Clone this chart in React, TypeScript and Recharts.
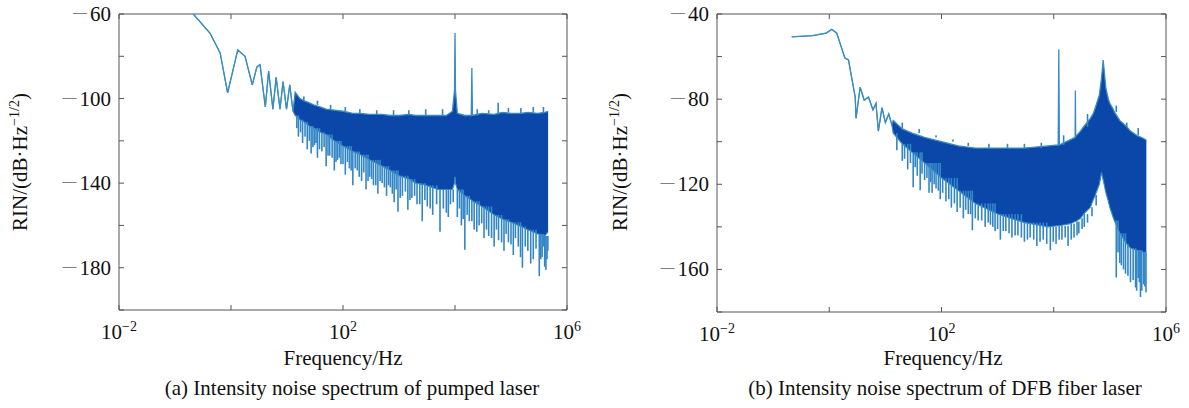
import { Area, Bar, ComposedChart, Line, ReferenceArea, XAxis, YAxis } from "recharts";

const FONT = '"Liberation Serif", "Times New Roman", serif';
const BAND = "#0b47a8";
const EDGE = "#3a8cc0";
const SPIKE = "#3386c6";
const AXIS = "#555";

// frequency ticks (Hz) and which ones get a 10^n label
const xTicks = [0.01, 1, 100, 1e4, 1e6];
const xExponents: Record<string, string> = { "0.01": "−2", "100": "2", "1000000": "6" };

// (a) pumped laser: single trace at low frequency
const pumpTraceFreq = [0.212, 0.42, 0.64, 0.87, 1.32, 1.78, 2.4, 2.9, 3.3, 4.1, 4.7, 5.6, 6.4, 7.5, 8.5, 9.8, 11.2, 12.8];
const pumpTraceRin = [-60, -69, -78.4, -97.3, -77, -80, -93.5, -85, -84, -104, -87, -105, -90, -105, -92, -105, -93.5, -106];
// (a) noise band: upper / lower body edges
const pumpBandFreq = [
  14, 17, 20, 25, 30, 40, 50, 70, 100, 150,
  200, 300, 500, 700, 1000, 1500, 2000, 3000, 5000, 7000,
  9000, 9800, 10000, 10200, 11000, 15000, 19500, 20000, 20500, 30000,
  50000, 70000, 100000, 150000, 200000, 300000, 400000, 460000,
];
const pumpBandHigh = [
  -97, -100, -101, -102, -103, -104, -105, -105.5, -106, -107,
  -107, -107.5, -107.5, -108, -108, -107.5, -108, -108, -108, -108,
  -106, -96, -69, -96, -107, -108, -108, -85.6, -108, -107,
  -107.5, -106.5, -107, -107, -106.5, -107, -106.5, -106,
];
const pumpBandLow = [
  -108, -110, -111, -113, -114, -116, -117, -120, -122.5, -125,
  -126.5, -129, -132, -134, -136.5, -138, -140, -141, -143, -143,
  -143, -140, -137, -140, -143, -146, -148, -148, -148.5, -151,
  -155, -157, -158.5, -160.5, -162, -164, -165, -163,
];
// (a) long downward noise spikes
const pumpSpikeFreq = [
  16, 19, 23, 27, 31, 35, 42, 50, 58, 70,
  80, 92, 110, 130, 150, 180, 215, 258, 300, 350,
  420, 500, 600, 700, 820, 960, 1150, 1440, 1700, 2100,
  2600, 3200, 4000, 5400, 7000, 8300, 11000, 13000, 15000, 18000,
  22000, 27000, 33000, 40000, 50000, 60000, 75000, 90000, 110000, 135000,
  160000, 200000, 250000, 320000, 360000, 400000, 440000,
];
const pumpSpikeTip = [
  -118, -121, -124, -126, -122, -128, -125, -132, -127, -134,
  -129, -131, -136, -133, -141, -134, -139, -143, -137, -141,
  -145, -140, -146, -142, -149, -153.5, -146, -152.6, -147, -150,
  -158, -151, -155, -163, -154, -150, -156, -160, -171.5, -158,
  -162, -160, -166, -165, -170, -167, -172, -168, -174, -170,
  -180, -172, -176, -184, -175, -179.5, -176,
];
// (a) shorter spikes between them
const pumpFringeFreq = [
  15, 17.5, 21, 25, 29, 33, 38, 46, 54, 64,
  75, 86, 100, 120, 140, 165, 195, 235, 280, 325,
  385, 460, 550, 650, 760, 890, 1050, 1300, 1570, 1900,
  2350, 2900, 3600, 4700, 6200, 7600, 9300, 12000, 14000, 16500,
  20000, 24500, 30000, 36500, 45000, 55000, 68000, 82000, 100000, 120000,
  148000, 180000, 225000, 280000, 340000, 380000, 420000, 455000,
];
const pumpFringeTip = [
  -114, -116, -118, -120, -123, -121, -124, -123, -127, -128,
  -130, -128, -131, -130, -134, -133, -137, -135, -139, -138,
  -141, -139, -142, -141, -145, -143, -147, -144, -148, -146,
  -150, -148, -152, -150, -152, -156, -149, -152, -157, -155,
  -158, -163, -159, -162, -166, -162, -168, -164, -169, -166,
  -175, -170, -178, -171, -176, -170, -181, -172,
];
// (a) small hairs above the band
const pumpHairFreq = [20, 35, 60, 110, 200, 400, 800, 1500, 3000, 6000, 25000, 40000, 59000, 90000, 150000, 250000, 380000];
const pumpHairTip = [-99, -101, -103, -104, -105, -105.5, -105.5, -105.5, -105, -105, -105, -105.5, -102, -104.5, -104.5, -104, -104];

// (b) DFB fiber laser
const dfbTraceFreq = [0.214, 0.5, 0.88, 1.11, 1.36, 1.9, 2.2, 2.9, 3.0, 3.55, 4.2, 5.0, 6.0, 6.8, 7.5, 8.7, 10, 11.5, 13];
const dfbTraceRin = [-50.7, -50.2, -49, -47.2, -49, -60.7, -61.6, -79, -89, -74.4, -80.5, -79, -85, -82, -95, -84, -91, -87, -92];
const dfbBandFreq = [
  13.8, 20, 30, 50, 100, 200, 400, 1000, 3000, 8000,
  12000, 12300, 12600, 20000, 24000, 24300, 24600, 30000, 34000, 45000,
  51000, 55000, 65000, 71000, 76000, 85000, 94000, 100000, 116000, 120000,
  150000, 200000, 233000, 300000, 400000, 447000,
];
const dfbBandHigh = [
  -90, -94, -96, -98, -100, -102, -103, -103, -103, -102,
  -101.5, -56.6, -101.5, -99, -98, -76, -97.5, -95, -93, -89,
  -86.6, -84, -78, -70, -61.6, -75, -80, -82, -85, -86,
  -90, -93, -95, -97, -98.5, -99.3,
];
const dfbBandLow = [
  -96, -101, -105, -110, -117, -123, -129, -134, -138, -140,
  -139.5, -139.5, -139.5, -138.5, -137.5, -137.5, -137.5, -136, -134, -130.8,
  -127, -125, -120, -114.4, -118, -124, -128, -131, -136, -137,
  -143, -148, -150, -151, -152, -152,
];
const dfbSpikeFreq = [
  20, 25, 31.3, 37, 41.7, 50, 60, 68, 80, 95,
  120, 150, 190, 245, 300, 355, 450, 600, 745, 900,
  1120, 1400, 1800, 2300, 3000, 3800, 5000, 6500, 8700, 11000,
  14000, 18000, 23000, 28000, 35000, 130000, 160000, 190000, 233000, 287000,
  320000, 351000, 400000, 440000,
];
const dfbSpikeTip = [
  -109, -113, -121.4, -116, -122.8, -118, -124, -124, -122, -127,
  -128, -131, -133, -136, -134, -141.6, -137, -140, -139, -142,
  -146, -142, -145, -144, -147, -145, -149, -146, -151, -148,
  -146, -149, -145, -143, -140, -163.8, -158, -162, -166, -168.5,
  -164, -173, -167, -170.8,
];
const dfbFringeFreq = [
  16, 22, 28, 34, 45, 55, 64, 74, 88, 105,
  135, 170, 215, 270, 330, 400, 520, 680, 820, 1000,
  1260, 1600, 2050, 2650, 3400, 4400, 5700, 7500, 9800, 12500,
  16000, 20500, 26000, 32000, 40000, 48000, 57000, 140000, 150000, 175000,
  210000, 260000, 300000, 335000, 370000, 420000,
];
const dfbFringeTip = [
  -104, -108, -110, -112, -115, -117, -119, -120, -123, -124,
  -127, -129, -131, -132, -134, -136, -137, -138, -140, -141,
  -142, -143, -144, -145, -146, -146, -147, -148, -147, -146,
  -145, -146, -144, -141, -138, -135, -130, -152, -157, -160,
  -163, -165, -170, -166, -170, -168,
];
const dfbHairFreq = [20, 40, 80, 160, 300, 700, 1500, 3000, 6000, 15000, 40000, 130000, 200000, 320000];
const dfbHairTip = [-91, -94, -97, -99, -100.5, -101, -101, -101, -100.5, -97, -87, -83, -91, -93.6];

const pumpTicks = [-200, -180, -160, -140, -120, -100, -80, -60];
const pumpLabels = [-180, -140, -100, -60];
const dfbTicks = [-180, -160, -140, -120, -100, -80, -60, -40];
const dfbLabels = [-160, -120, -80, -40];

// band edge value at a spike frequency, looked up from the listed band points
function edgeAt(bf: number[], edge: number[], f: number) {
  let k = 0;
  while (k < bf.length - 1 && bf[k + 1] <= f) k++;
  return edge[k];
}

function buildRows(p: {
  tf: number[]; tv: number[]; bf: number[]; bh: number[]; bl: number[];
  sf: number[]; st: number[]; ff: number[]; ft: number[]; hf: number[]; ht: number[];
}) {
  const rows: any[] = [];
  p.tf.forEach((f, i) => rows.push({ f, hi: p.tv[i], lo: p.tv[i], band: [p.tv[i], p.tv[i]] }));
  p.bf.forEach((f, i) => rows.push({ f, hi: p.bh[i], lo: p.bl[i], band: [p.bl[i], p.bh[i]] }));
  p.sf.forEach((f, i) => rows.push({ f, spike: [p.st[i], edgeAt(p.bf, p.bl, f)] }));
  p.ff.forEach((f, i) => rows.push({ f, spike: [p.ft[i], edgeAt(p.bf, p.bl, f)] }));
  p.hf.forEach((f, i) => rows.push({ f, spike: [edgeAt(p.bf, p.bh, f), p.ht[i]] }));
  return rows.sort((a, b) => a.f - b.f);
}

// draw each spike as a 1.6px stroke centred on its bar slot
const SpikeShape = (p: any) => {
  if (!p.height || !isFinite(p.y)) return <g />;
  const cx = p.x + (p.width || 0) / 2;
  return <rect x={cx - 0.8} y={p.y} width={1.6} height={p.height} fill={SPIKE} />;
};

type Box = { left: number; right: number; top: number; bottom: number };

function Panel({
  rows, domain, ticks, labels, box, width, height, offset, caption, labelX, captionX, yLabelX,
}: {
  rows: any[]; domain: [number, number]; ticks: number[]; labels: number[]; box: Box;
  width: number; height: number; offset: number; caption: string;
  labelX: number; captionX: number; yLabelX: number;
}) {
  const xTick = (p: any) => {
    const exp = xExponents[String(p.payload.value)];
    return (
      <g>
        <line x1={p.x} x2={p.x} y1={box.bottom} y2={box.bottom - 5} stroke={AXIS} />
        <line x1={p.x} x2={p.x} y1={box.top} y2={box.top + 5} stroke={AXIS} />
        {exp && (
          <text x={p.x} y={box.bottom + 29} textAnchor="middle" fontFamily={FONT} fontSize={21} fill="#111">
            <tspan>10</tspan>
            <tspan dy={-8} fontSize={14}>{exp}</tspan>
          </text>
        )}
      </g>
    );
  };
  const yTick = (p: any) => {
    const v = p.payload.value;
    return (
      <g>
        <line x1={box.left} x2={box.left + 5} y1={p.y} y2={p.y} stroke={AXIS} />
        <line x1={box.right} x2={box.right - 5} y1={p.y} y2={p.y} stroke={AXIS} />
        {labels.includes(v) && (
          <text x={box.left - 8} y={p.y + 7} textAnchor="end" fontFamily={FONT} fontSize={21} fill="#111">
            <tspan fontSize={14} dy={-4}>{"—"}</tspan>
            <tspan dy={4} dx={3}>{String(Math.abs(v))}</tspan>
          </text>
        )}
      </g>
    );
  };
  const text = { position: "absolute" as const, fontFamily: FONT, fontSize: 21, color: "#111", whiteSpace: "nowrap" as const, lineHeight: "21px" };
  return (
    <>
      <div style={{ position: "absolute", left: offset, top: 0 }}>
        <ComposedChart
          width={width}
          height={height}
          data={rows}
          margin={{ top: box.top, right: width - box.right, left: 0, bottom: 0 }}
          style={{ overflow: "visible" }}
        >
          <XAxis
            dataKey="f"
            type="number"
            scale="log"
            domain={[0.01, 1e6]}
            ticks={xTicks}
            allowDataOverflow
            height={height - box.bottom}
            axisLine={false}
            tickLine={false}
            tickSize={0}
            tick={xTick}
            interval={0}
          />
          <YAxis
            type="number"
            domain={domain}
            ticks={ticks}
            allowDataOverflow
            width={box.left}
            axisLine={false}
            tickLine={false}
            tickSize={0}
            tick={yTick}
            interval={0}
          />
          <Bar dataKey="spike" barSize={2} fill={SPIKE} shape={SpikeShape} isAnimationActive={false} />
          <Area dataKey="band" type="linear" stroke="none" fill={BAND} fillOpacity={1} connectNulls isAnimationActive={false} />
          <Line dataKey="hi" type="linear" stroke={EDGE} strokeWidth={1.3} dot={false} connectNulls isAnimationActive={false} />
          <Line dataKey="lo" type="linear" stroke={EDGE} strokeWidth={1.1} dot={false} connectNulls isAnimationActive={false} />
          <ReferenceArea x1={0.01} x2={1e6} y1={domain[0]} y2={domain[1]} fill="none" stroke={AXIS} strokeWidth={1} ifOverflow="visible" />
        </ComposedChart>
      </div>
      <div style={{ ...text, left: yLabelX, top: 162, transform: "translate(-50%, -50%) rotate(-90deg)" }}>
        RIN/(dB·Hz<sup style={{ fontSize: 14, verticalAlign: 0, position: "relative", top: -8 }}>−1/2</sup>)
      </div>
      <div style={{ ...text, left: labelX, top: 348, transform: "translateX(-50%)" }}>Frequency/Hz</div>
      <div style={{ ...text, left: captionX, top: 378, transform: "translateX(-50%)" }}>{caption}</div>
    </>
  );
}

export default function App() {
  const pumpRows = buildRows({
    tf: pumpTraceFreq, tv: pumpTraceRin, bf: pumpBandFreq, bh: pumpBandHigh, bl: pumpBandLow,
    sf: pumpSpikeFreq, st: pumpSpikeTip, ff: pumpFringeFreq, ft: pumpFringeTip, hf: pumpHairFreq, ht: pumpHairTip,
  });
  const dfbRows = buildRows({
    tf: dfbTraceFreq, tv: dfbTraceRin, bf: dfbBandFreq, bh: dfbBandHigh, bl: dfbBandLow,
    sf: dfbSpikeFreq, st: dfbSpikeTip, ff: dfbFringeFreq, ft: dfbFringeTip, hf: dfbHairFreq, ht: dfbHairTip,
  });
  return (
    <div style={{ position: "absolute", left: 0, top: 0, width: 1189, height: 408, background: "#fff" }}>
      <Panel
        rows={pumpRows}
        domain={[-200, -60]}
        ticks={pumpTicks}
        labels={pumpLabels}
        box={{ left: 119, right: 567, top: 14, bottom: 310 }}
        width={600}
        height={345}
        offset={0}
        caption="(a) Intensity noise spectrum of pumped laser"
        labelX={343}
        captionX={352}
        yLabelX={21}
      />
      <Panel
        rows={dfbRows}
        domain={[-180, -40]}
        ticks={dfbTicks}
        labels={dfbLabels}
        box={{ left: 117, right: 566, top: 14, bottom: 312 }}
        width={589}
        height={347}
        offset={600}
        caption="(b) Intensity noise spectrum of DFB fiber laser"
        labelX={943}
        captionX={945}
        yLabelX={621}
      />
    </div>
  );
}
